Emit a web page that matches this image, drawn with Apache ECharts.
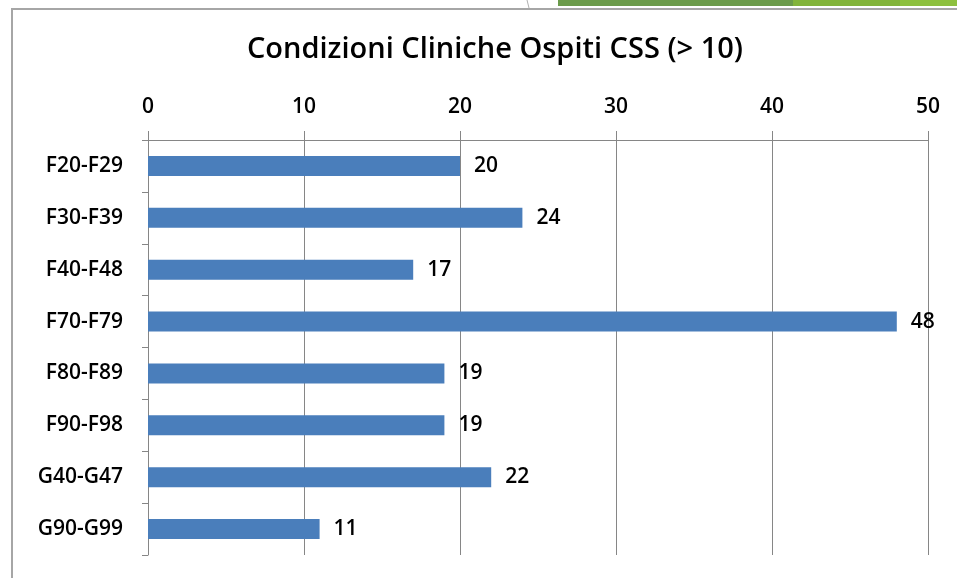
<!DOCTYPE html>
<html>
<head>
<meta charset="utf-8">
<script src="https://cdn.jsdelivr.net/npm/echarts@6/dist/echarts.min.js"></script>
<style>
  html, body { margin: 0; padding: 0; background: #fff; }
  #chart { width: 957px; height: 578px; }
</style>
</head>
<body>
<div id="chart"></div>
<script>
// dati
const categorie = ['F20-F29', 'F30-F39', 'F40-F48', 'F70-F79', 'F80-F89', 'F90-F98', 'G40-G47', 'G90-G99'];
const ospiti = [20, 24, 17, 48, 19, 19, 22, 11];
const tickX = [0, 10, 20, 30, 40, 50];

const font = 'Open Sans';
const chart = echarts.init(document.getElementById('chart'));

const option = {
  backgroundColor: '#fff',
  animation: false,
  title: {
    text: 'Condizioni Cliniche Ospiti CSS (> 10)',
    left: 490,
    top: 30,
    textAlign: 'center',
    textStyle: { fontFamily: font, fontSize: 29, fontWeight: 600, color: '#000' }
  },
  grid: { left: 148, right: 29, top: 140, bottom: 23 },
  xAxis: {
    type: 'value',
    position: 'top',
    min: tickX[0],
    max: tickX[tickX.length - 1],
    interval: 10,
    axisLine: { show: true, lineStyle: { color: '#868686', width: 1 } },
    axisTick: { show: true, length: 9, lineStyle: { color: '#868686' } },
    axisLabel: { margin: 22, color: '#000', fontFamily: font, fontSize: 21, fontWeight: 600 },
    splitLine: { show: true, lineStyle: { color: '#868686', width: 1 } }
  },
  yAxis: {
    type: 'category',
    inverse: true,
    data: categorie,
    axisLine: { show: true, lineStyle: { color: '#868686', width: 1 } },
    axisTick: { show: true, length: 6, lineStyle: { color: '#868686' } },
    axisLabel: { margin: 25, color: '#000', fontFamily: font, fontSize: 21, fontWeight: 600 },
    splitLine: { show: false }
  },
  series: [
    {
      type: 'bar',
      data: ospiti,
      barWidth: 20,
      itemStyle: { color: '#4a7ebb' },
      label: {
        show: true,
        position: 'right',
        distance: 14,
        color: '#000',
        fontFamily: font,
        fontSize: 21,
        fontWeight: 600
      }
    }
  ],
  graphic: [
    // cornice del grafico
    { type: 'polyline', shape: { points: [[12, 578], [12, 9], [957, 9]] },
      style: { stroke: '#a6a6a6', lineWidth: 2, fill: null } },
    // decorazione della slide in alto
    { type: 'rect', shape: { x: 558, y: 0, width: 235, height: 6 }, style: { fill: '#6b9b4b' } },
    { type: 'rect', shape: { x: 793, y: 0, width: 107, height: 6 }, style: { fill: '#82b43a' } },
    { type: 'rect', shape: { x: 900, y: 0, width: 57, height: 6 }, style: { fill: '#8dc03f' } },
    { type: 'line', shape: { x1: 527, y1: 0, x2: 529, y2: 8 }, style: { stroke: '#b0b0b0', lineWidth: 1 } }
  ]
};

chart.setOption(option);
</script>
</body>
</html>
